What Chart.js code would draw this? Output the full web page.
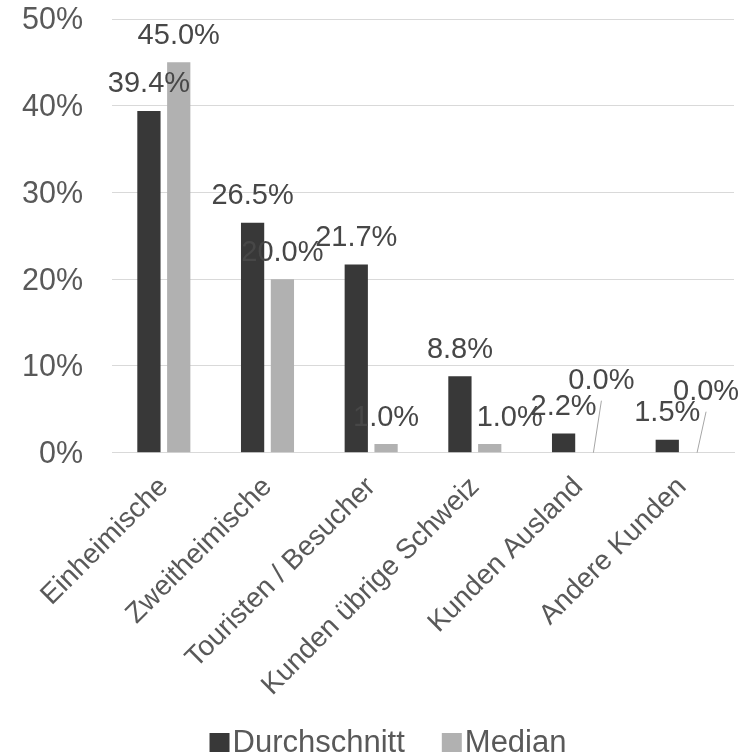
<!DOCTYPE html>
<html lang="de">
<head>
<meta charset="utf-8">
<title>Kundenstruktur</title>
<script src="https://cdn.jsdelivr.net/npm/chart.js@4.4.1/dist/chart.umd.min.js"></script>
<style>
  html, body { margin: 0; padding: 0; background: #ffffff; }
  #wrap { width: 738px; height: 755px; }
</style>
</head>
<body>
<div id="wrap"><canvas id="c" width="738" height="755"></canvas></div>
<script>
// Kundensegmente und Anteile (in Prozent)
const categories = ['Einheimische', 'Zweitheimische', 'Touristen / Besucher', 'Kunden übrige Schweiz', 'Kunden Ausland', 'Andere Kunden'];
const durchschnitt = [39.4, 26.5, 21.7, 8.8, 2.2, 1.5];
const median = [45.0, 20.0, 1.0, 1.0, 0.0, 0.0];
const seriesNames = ['Durchschnitt', 'Median'];
const yTickValues = [0, 10, 20, 30, 40, 50];

// Darstellung
const FONT = '"Liberation Sans", Arial, Helvetica, sans-serif';
const DARK = '#383838';
const LIGHT = '#b1b1b1';
const TEXT = '#595959';
const LABEL_TEXT = '#474747';
const GRID = '#d9d9d9';

// Verschiebung einzelner Wertbeschriftungen [Datenreihe-Kategorie] in px; leader = Führungslinie
const labelNudges = {
  '1-3': { dx: 20, dy: 0 },
  '1-4': { dx: 8, dy: -45.5, leader: true },
  '1-5': { dx: 9, dy: -34.5, leader: true }
};

const valueLabels = {
  id: 'valueLabels',
  afterDatasetsDraw(chart) {
    const ctx = chart.ctx;
    ctx.save();
    ctx.font = '29px ' + FONT;
    ctx.textAlign = 'center';
    ctx.textBaseline = 'middle';
    chart.data.datasets.forEach((ds, di) => {
      const meta = chart.getDatasetMeta(di);
      meta.data.forEach((bar, i) => {
        const n = labelNudges[di + '-' + i] || { dx: 0, dy: 0 };
        const lx = bar.x + n.dx;
        const ly = bar.y - 26.5 + n.dy;
        if (n.leader) {
          ctx.strokeStyle = '#a6a6a6';
          ctx.lineWidth = 1;
          ctx.beginPath();
          ctx.moveTo(lx, ly + 20);
          ctx.lineTo(bar.x, bar.y);
          ctx.stroke();
        }
        ctx.fillStyle = LABEL_TEXT;
        ctx.fillText(ds.data[i].toFixed(1) + '%', lx, ly);
      });
    });
    ctx.restore();
  }
};

// Legende unterhalb der Achsenbeschriftungen
const bottomLegend = {
  id: 'bottomLegend',
  afterDraw(chart) {
    const ctx = chart.ctx;
    ctx.save();
    ctx.font = '31px ' + FONT;
    ctx.textBaseline = 'alphabetic';
    const box = 20, gapText = 3, gapItem = 37;
    const items = chart.data.datasets.map(d => ({ label: d.label, color: d.backgroundColor }));
    const widths = items.map(it => box + gapText + ctx.measureText(it.label).width);
    const total = widths.reduce((a, b) => a + b, 0) + gapItem * (items.length - 1);
    let x = 388 - total / 2;
    const baseY = 752;
    items.forEach((it, k) => {
      ctx.fillStyle = it.color;
      ctx.fillRect(x, 733, box, 19);
      ctx.fillStyle = TEXT;
      ctx.fillText(it.label, x + box + gapText, baseY);
      x += widths[k] + gapItem;
    });
    ctx.restore();
  }
};

new Chart(document.getElementById('c'), {
  type: 'bar',
  data: {
    labels: categories,
    datasets: [
      { label: seriesNames[0], data: durchschnitt, backgroundColor: DARK },
      { label: seriesNames[1], data: median, backgroundColor: LIGHT }
    ]
  },
  options: {
    responsive: false,
    animation: false,
    devicePixelRatio: 1,
    layout: { padding: { top: 19, right: 4, left: 0, bottom: 0 } },
    datasets: { bar: { categoryPercentage: 0.575, barPercentage: 0.78 } },
    plugins: { legend: { display: false }, tooltip: { enabled: false } },
    scales: {
      x: {
        grid: { display: false, drawTicks: false },
        border: { display: true, color: GRID, width: 1 },
        ticks: {
          color: TEXT,
          font: { family: FONT, size: 28 },
          minRotation: 45,
          maxRotation: 45,
          autoSkip: false,
          padding: 18
        },
        afterFit(scale) { scale.height = 302.3; }
      },
      y: {
        min: 0,
        max: 50,
        afterBuildTicks(scale) { scale.ticks = yTickValues.map(v => ({ value: v })); },
        grid: { color: GRID, lineWidth: 1, drawTicks: false },
        border: { display: false },
        ticks: {
          color: TEXT,
          font: { family: FONT, size: 30.5 },
          padding: 29,
          labelOffset: 2,
          callback: v => v + '%'
        },
        afterFit(scale) {
          scale.width = 112;
          scale.paddingTop = 0;
          scale.paddingBottom = 0;
        }
      }
    }
  },
  plugins: [valueLabels, bottomLegend]
});
</script>
</body>
</html>
